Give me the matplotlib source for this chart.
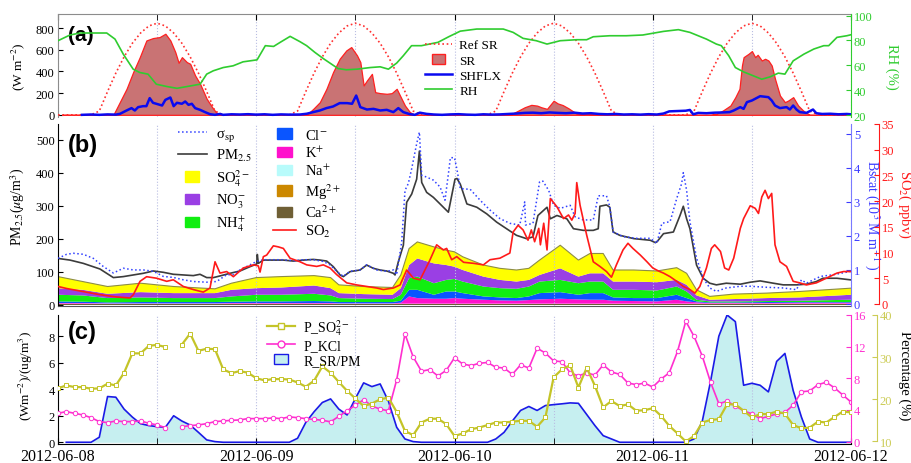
import datetime as dt
import numpy as np
import matplotlib
matplotlib.use("Agg")
import matplotlib.pyplot as plt
import matplotlib.dates as mdates
from matplotlib.lines import Line2D
from matplotlib.patches import Patch, Rectangle
from matplotlib.legend_handler import HandlerPatch

plt.rcParams['font.family'] = ['Liberation Serif', 'DejaVu Serif']
plt.rcParams['mathtext.fontset'] = 'stix'

nan = np.nan

# ---- panel (a): radiation, sensible heat flux, RH  (hours since 2012-06-08 00:00)
ref_daily = [0, 0, 0, 0, 0, 35, 215, 385, 535, 660, 755, 820,
             845, 820, 755, 660, 535, 385, 215, 35, 0, 0, 0, 0]

sr_t = [0.5, 6.7, 8.3, 9.1, 9.9, 10.7, 11.5, 12.3, 13.0, 13.6, 14.2, 14.6, 15.0, 15.6, 16.0, 16.6, 17.2, 18.0, 18.8, 19.4,
        30.1, 30.9, 31.7, 32.5, 33.3, 34.1, 34.9, 35.5, 36.2, 36.6, 37.0, 37.4, 38.0, 38.4, 39.0, 39.8, 40.4, 41.0, 41.4, 42.0, 42.6, 43.2,
        54.7, 55.5, 56.5, 57.3, 58.0, 58.5, 59.2, 60.0, 60.5, 61.1, 61.8, 62.4, 62.8, 63.5, 64.0, 64.5, 65.5,
        79.0, 79.7, 80.5, 81.4, 82.0, 82.5, 82.8, 83.0, 83.6, 84.0, 84.4, 84.7, 85.2, 85.6, 86.0, 86.4, 86.8, 87.4, 88.0, 88.4, 89.0, 89.6, 90.2, 91.0, 96.0]
sr_v = [0, 0, 240, 394, 532, 686, 708, 717, 748, 686, 578, 480, 532, 486, 471, 363, 286, 148, 55, 0,
        0, 55, 117, 240, 394, 517, 594, 625, 548, 486, 271, 317, 378, 209, 200, 194, 200, 240, 178, 86, 25, 0,
        0, 30, 70, 92, 85, 70, 55, 130, 105, 90, 60, 30, 10, 5, 12, 5, 0,
        0, 9, 40, 86, 163, 240, 455, 532, 563, 588, 532, 554, 501, 517, 501, 455, 332, 178, 117, 132, 163, 86, 40, 0, 0]

shf_t = [2.9, 4.0, 5.0, 6.0, 7.0, 7.5, 8.3, 8.9, 9.3, 9.7, 10.3, 10.7, 11.1, 11.5, 11.9, 12.6, 13.0, 13.6, 14.0, 14.4,
         15.0, 15.4, 15.8, 16.2, 16.6, 17.2, 17.8, 18.4, 19.0, 19.6, 20.0, 21.0, 22.0, 23.0, 24.0, 25.0, 26.0, 27.0, 28.0, 29.3,
         30.1, 30.9, 31.7, 32.5, 33.3, 34.1, 35.0, 35.6, 36.1, 36.6, 37.4, 38.2, 39.0, 39.8, 40.6, 41.2, 41.8, 42.6, 43.2, 43.8,
         44.6, 45.5, 46.5, 47.5, 48.5, 49.5, 50.5, 51.5, 52.5, 53.5, 54.5, 55.5, 56.5, 57.5, 58.5, 59.5, 60.5, 61.5, 62.5, 63.5,
         64.5, 65.5, 66.5, 67.5, 68.5, 69.5, 70.5, 71.5, 72.5, 73.3, 74.0, 75.0, 76.0, 76.5, 76.9, 77.5, 78.5, 79.5, 80.5, 81.3,
         81.8, 82.6, 83.0, 83.4, 84.0, 85.0, 86.0, 86.4, 86.8, 87.4, 88.2, 88.6, 89.0, 89.4, 89.8, 90.6, 91.4, 91.8, 92.5, 93.5,
         94.5, 95.5, 96.0]
shf_v = [0, 3, 0, 4, 2, 9, 40, 62, 40, 71, 80, 80, 154, 111, 102, 86, 138, 160, 80, 111,
         102, 123, 92, 102, 62, 46, 25, 6, 0, 8, 0, 5, 3, 6, 2, 5, 0, 4, 2, 3,
         10, 25, 40, 62, 77, 108, 108, 102, 178, 71, 49, 55, 40, 46, 25, 62, 25, 6, 0, 20,
         9, 3, 0, 4, 6, 2, 0, 5, 2, 4, 8, 12, 18, 20, 15, 22, 18, 15, 20, 12,
         15, 8, 5, 8, 3, 5, 2, 6, 3, 12, 32, 35, 38, 45, 5, 18, 15, 20, 22, 25,
         40, 71, 55, 117, 132, 172, 163, 132, 86, 62, 71, 49, 86, 49, 25, 18, 49, 15, 8, 10,
         5, 8, 5]

rh_t = [0, 1.45, 2.66, 3.9, 5.9, 6.9, 7.9, 9.1, 9.9, 10.9, 11.9, 13.2, 14.4, 15.6, 17.2, 18.0, 18.8, 20.0, 21.2, 22.4,
        24.1, 25.1, 26.1, 26.9, 28.1, 29.3, 30.1, 31.1, 32.1, 33.1, 33.9, 34.9, 36.2, 37.8, 39.0, 40.0, 41.0, 41.8, 42.8, 44.0,
        46.0, 47.3, 48.7, 50.7, 53.9, 55.1, 56.3, 57.9, 59.2, 60.8, 62.8, 64.0, 64.8, 66.8, 68.8, 70.8, 73.3, 75.1, 76.5, 78.5,
        79.7, 80.3, 81.2, 82.0, 83.0, 84.2, 85.2, 86.2, 87.2, 88.0, 89.0, 90.3, 91.5, 92.7, 93.3, 94.3, 95.5, 96.0]
rh_v = [79.8, 84.4, 86.0, 86.0, 86.0, 81.1, 69.0, 56.9, 54.2, 52.9, 44.8, 42.9, 41.5, 42.9, 44.8, 52.9, 55.6, 58.2, 59.6, 62.8,
        64.4, 75.8, 75.2, 78.5, 83.3, 79.0, 75.8, 70.4, 65.5, 61.0, 57.4, 56.4, 56.9, 58.2, 58.8, 56.9, 61.8, 67.7, 75.8, 75.8,
        78.5, 83.0, 87.5, 89.2, 89.2, 86.5, 81.7, 79.8, 77.1, 79.8, 80.6, 80.6, 83.0, 83.8, 83.8, 84.4, 87.3, 88.7, 86.5, 81.1,
        77.1, 75.8, 67.7, 58.2, 54.7, 51.5, 48.8, 50.7, 53.7, 52.9, 63.6, 69.0, 73.1, 75.8, 75.8, 82.5, 83.8, 84.6]

# ---- panel (b): PM2.5, scattering, SO2 and ions
pm_t = [0.0, 1.45, 3.07, 5.08, 6.70, 7.91, 9.12, 10.33, 11.54, 12.75, 13.96, 15.17, 16.38, 17.19, 18.0, 18.81, 19.61, 20.82, 22.03, 23.24,
        24.05, 24.13, 24.25, 24.86, 26.07, 27.28, 28.49, 29.70, 30.91, 31.72, 32.53, 33.33, 34.14, 34.54, 35.35, 36.56, 37.37, 38.18, 38.98, 39.79,
        40.60, 40.80, 41.20, 41.81, 42.21, 42.82, 43.42, 43.75, 44.03, 44.63, 45.44, 46.25, 46.65, 47.26, 47.66, 48.06, 48.3, 48.7, 49.5, 50.7,
        51.9, 53.1, 54.3, 55.5, 56.7, 57.5, 58.1, 59.2, 59.6, 60.4, 61.6, 62.4, 63.6, 64.8, 65.4, 65.6, 66.4, 66.8, 67.2, 68.0,
        69.7, 71.7, 72.3, 72.5, 73.3, 74.5, 75.3, 75.7, 76.1, 76.5, 77.3, 78.1, 78.9, 79.7, 80.9, 82.6, 83.8, 85.0, 86.6, 87.8,
        89.4, 90.6, 91.8, 92.6, 94.3, 96.0]
pm_v = [140, 135, 125, 108, 82, 85, 90, 95, 102, 98, 92, 90, 88, 92, 82, 82, 87, 95, 102, 115,
        123, 152, 125, 135, 135, 135, 132, 135, 137, 135, 132, 115, 90, 85, 100, 105, 120, 110, 105, 102,
        95, 90, 130, 180, 310, 335, 380, 465, 370, 340, 325, 305, 295, 280, 330, 380, 382, 365, 305, 295,
        275, 250, 230, 210, 200, 205, 270, 295, 260, 270, 260, 230, 225, 225, 230, 298, 302, 295, 220, 210,
        200, 195, 188, 190, 215, 220, 270, 298, 260, 230, 120, 80, 65, 60, 65, 62, 68, 72, 65, 60,
        60, 62, 70, 80, 80, 75]

bs_t = [0.0, 1.05, 1.86, 3.07, 4.28, 5.49, 6.70, 7.91, 9.12, 10.33, 11.54, 12.75, 13.96, 15.17, 16.38, 18.0, 19.21, 20.42, 21.23, 22.03,
        23.24, 24.05, 24.86, 26.07, 27.28, 28.49, 29.70, 30.91, 32.12, 32.93, 33.74, 34.54, 35.35, 36.56, 37.37, 38.58, 39.79, 40.60, 41.0, 41.61,
        42.01, 42.41, 42.82, 43.42, 43.75, 44.03, 44.63, 45.44, 46.25, 46.85, 47.3, 47.5, 48.0, 48.3, 48.7, 49.9, 51.1, 52.3, 53.5, 54.7,
        55.9, 56.5, 56.6, 57.5, 58.3, 58.7, 59.4, 60.0, 60.8, 62.0, 62.6, 63.6, 64.8, 65.4, 66.4, 66.8, 67.2, 68.4, 70.0, 71.7,
        72.5, 73.1, 74.1, 74.9, 75.5, 75.7, 76.1, 76.5, 77.3, 78.1, 78.9, 79.7, 80.9, 82.6, 83.8, 85.8, 87.8, 89.4, 90.0, 90.6,
        92.3, 93.9, 96.0]
bs_v = [1.34, 1.46, 1.49, 1.46, 1.34, 1.10, 0.91, 1.05, 1.00, 1.00, 0.96, 0.81, 0.78, 0.71, 0.66, 0.64, 0.66, 0.86, 0.86, 1.00,
        1.15, 1.25, 1.30, 1.30, 1.30, 1.27, 1.30, 1.30, 1.25, 1.15, 0.96, 0.81, 0.96, 1.00, 1.15, 1.00, 0.96, 1.00, 0.86, 1.83,
        3.34, 3.54, 3.98, 4.71, 5.05, 3.78, 3.73, 3.64, 3.44, 3.05, 3.90, 4.30, 4.30, 3.95, 3.39, 3.37, 3.05, 2.76, 2.51, 2.37,
        2.32, 3.00, 2.32, 2.37, 3.59, 3.61, 3.34, 2.90, 2.81, 2.90, 2.56, 2.47, 2.47, 3.18, 3.18, 2.86, 2.12, 1.98, 1.93, 1.93,
        1.78, 2.37, 2.42, 3.10, 3.54, 3.86, 3.34, 2.42, 1.35, 0.76, 0.47, 0.37, 0.47, 0.52, 0.52, 0.49, 0.47, 0.42, 0.71, 0.61,
        0.81, 0.86, 0.96]

so2_t = [0.0, 1.05, 3.07, 5.08, 7.10, 8.72, 9.12, 9.93, 10.73, 11.95, 13.16, 13.96, 15.17, 16.38, 17.59, 18.40, 19.01, 19.61, 20.42, 21.23,
         22.44, 23.65, 24.25, 24.46, 24.86, 25.26, 26.07, 26.67, 27.28, 28.09, 29.30, 30.11, 31.32, 32.12, 32.93, 33.74, 34.95, 36.16, 37.37, 38.58,
         39.39, 40.60, 41.41, 42.21, 43.02, 43.83, 45.04, 45.84, 46.65, 47.05, 47.66, 48.27, 49.1, 50.3, 51.5, 52.3, 53.5, 54.7, 55.1, 55.7,
         56.3, 56.9, 57.3, 57.7, 58.2, 58.4, 58.8, 59.2, 59.6, 60.4, 61.2, 61.8, 62.2, 62.6, 62.8, 63.2, 64.0, 64.8, 65.6, 66.4,
         67.0, 67.6, 68.4, 69.0, 69.6, 70.5, 71.3, 72.0, 72.7, 73.3, 74.1, 74.9, 75.7, 76.5, 77.1, 77.7, 78.5, 79.1, 79.5, 80.2,
         80.7, 81.2, 81.8, 82.6, 83.0, 83.8, 84.4, 84.8, 85.2, 85.6, 86.0, 86.4, 86.8, 87.4, 88.2, 89.0, 89.8, 90.6, 91.8, 93.0,
         94.3, 95.1, 96.0]
so2_v = [3.4, 3.0, 2.4, 1.8, 1.35, 1.16, 1.8, 4.4, 5.3, 5.0, 4.4, 4.7, 3.4, 2.8, 2.3, 3.1, 8.2, 6.0, 6.3, 5.3,
         7.0, 7.6, 7.4, 6.2, 9.2, 9.5, 11.3, 11.1, 10.8, 8.9, 8.2, 7.6, 7.3, 7.6, 7.0, 5.7, 4.1, 3.7, 3.4, 3.1,
         2.8, 3.1, 3.7, 6.6, 5.0, 4.7, 8.6, 11.5, 10.5, 10.8, 8.6, 9.2, 8.1, 7.9, 7.6, 8.6, 8.9, 9.9, 14.0, 15.3,
         14.4, 12.4, 14.4, 12.1, 14.7, 11.5, 15.7, 10.5, 20.5, 18.9, 16.6, 17.3, 16.3, 17.6, 23.6, 19.2, 13.4, 8.2, 7.3, 6.3,
         5.2, 7.6, 10.5, 11.8, 10.8, 9.5, 8.2, 7.0, 6.4, 6.0, 5.3, 4.4, 3.4, 2.8, 2.1, 3.4, 7.0, 10.8, 11.5, 10.2,
         7.0, 6.6, 8.9, 14.7, 16.6, 19.1, 18.6, 17.6, 20.8, 22.1, 20.5, 21.5, 11.5, 8.2, 7.3, 4.4, 4.1, 3.7, 4.1, 5.0,
         6.0, 6.3, 6.3]

ion_t = [0, 3, 6, 10, 14, 19, 21, 24, 27, 31, 33, 34, 37, 40.5, 41.5, 42.5, 43.5, 45.5, 47, 48,
         49, 51.5, 53.5, 55.5, 57, 58.3, 60.8, 63, 64.4, 66, 67.2, 69.7, 72.5, 74.9, 76.1, 77.3, 78.9, 81.8, 85.8, 89.8, 96]
so4 = [35, 25, 22, 27, 20, 13, 20, 32, 33, 30, 32, 25, 23, 22, 40, 50, 50, 50, 45, 45,
       40, 35, 35, 35, 35, 45, 70, 50, 60, 60, 35, 35, 34, 37, 35, 17, 10, 15, 15, 18, 20]
no3 = [20, 17, 13, 16, 15, 15, 20, 20, 22, 25, 22, 15, 14, 13, 20, 40, 55, 60, 45, 37,
       35, 30, 25, 22, 20, 20, 35, 20, 25, 25, 25, 25, 25, 20, 20, 13, 5, 7, 9, 10, 15]
nh4 = [20, 19, 13, 14, 12, 12, 16, 20, 20, 22, 18, 12, 10, 9, 18, 35, 40, 35, 35, 38,
       35, 30, 28, 28, 30, 35, 37, 35, 35, 35, 23, 25, 23, 25, 20, 5, 3, 3, 3, 4, 7]
cl = [5, 4, 3, 4, 4, 4, 4, 5, 5, 6, 5, 4, 4, 4, 6, 20, 25, 12, 22, 20,
      17, 10, 9, 8, 11, 19, 20, 14, 20, 20, 10, 9, 10, 15, 10, 3, 2, 2, 3, 2, 2]
k = [2, 2, 1, 1, 1, 1, 2, 2, 2, 2, 2, 1, 1, 1, 3, 22, 17, 15, 15, 17,
     15, 12, 10, 9, 11, 13, 15, 13, 12, 12, 9, 8, 7, 12, 7, 4, 2, 2, 2, 3, 3]
na = [0.9] * len(ion_t)
mg = [0.6] * len(ion_t)
ca = [1.5] * len(ion_t)

# ---- panel (c): hourly ratios
hrs_c = list(range(97))
p_so4 = [22.6, 23.3, 22.9, 22.9, 22.5, 22.6, 23.7, 23.3, 26.3, 30.9,
         30.9, 32.7, 32.9, 32.4, nan, 33.0, 35.6, 31.5, 32.0, 31.9,
         27.1, 26.2, 26.7, 26.3, 25.0, 24.5, 24.8, 24.8, 24.7, 24.0,
         23.0, 24.4, 27.8, 26.3, 24.1, 22.0, 20.2, 18.4, 19.0, 20.0,
         20.4, 17.0, 12.5, 11.5, 14.5, 15.4, 15.4, 14.1, 11.3, 11.9,
         12.9, 13.3, 13.9, 14.5, 14.5, 14.7, 14.9, 14.9, 13.5, 15.7,
         25.2, 27.1, 28.1, 22.8, 27.5, 23.2, 18.1, 19.6, 18.4, 18.8,
         17.3, 17.4, 17.9, 16.1, 13.7, 11.9, 10.0, 11.3, 14.5, 15.1,
         15.3, 18.8, 18.8, 17.3, 15.7, 16.5, 16.5, 17.1, 16.6, 13.9,
         13.1, 13.3, 14.7, 14.5, 15.8, 17.1, 16.9]
p_kcl = [3.58, 3.79, 3.58, 3.37, 3.03, 2.53, 2.40, 2.61, 2.53, 2.53,
         2.61, 2.32, 2.11, 1.77, nan, 1.89, 2.02, 2.11, 2.27, 2.53,
         2.61, 2.69, 2.74, 2.91, 2.91, 2.91, 2.99, 2.91, 3.12, 3.03,
         2.91, 2.80, 2.70, 2.50, 3.20, 3.90, 4.60, 5.30, 4.50, 4.10,
         3.90, 7.80, 13.6, 10.7, 8.9, 9.1, 8.3, 9.0, 10.6, 9.8,
         9.6, 9.9, 10.0, 9.4, 9.3, 8.5, 9.7, 9.3, 11.8, 11.2,
         10.2, 10.1, 8.7, 8.3, 8.7, 8.4, 9.7, 8.8, 8.5, 7.4,
         7.2, 7.4, 6.9, 7.9, 8.7, 11.4, 15.2, 13.3, 10.8, 7.5,
         4.8, 5.1, 4.5, 3.9, 3.5, 2.9, 3.2, 3.5, 3.7, 4.6,
         6.3, 6.4, 7.2, 7.5, 6.8, 5.9, 5.0]
r_srpm = [nan, 0, 0, 0, 0, 0.38, 3.45, 3.40, 2.50, 1.90,
          1.40, 1.26, 1.18, 1.13, 2.00, 1.60, 1.30, 0.75, 0.18, 0.05,
          0, 0, 0, 0, 0, 0, 0, 0, 0, 0.30,
          1.50, 2.30, 3.00, 3.27, 2.50, 2.06, 3.30, 4.48, 4.20, 4.40,
          3.10, 1.13, 0.25, 0.05, 0, 0, 0, 0, 0, 0,
          0, 0, 0, 0.25, 0.75, 1.60, 2.40, 2.70, 2.40, 2.77,
          2.84, 2.90, 2.97, 2.94, 2.10, 1.26, 0.50, 0.25, 0, 0,
          0, 0, 0, 0, 0, 0, 0, 0.25, 1.60, 4.60,
          8.00, 9.60, 9.10, 4.30, 4.45, 4.30, 3.80, 6.10, 6.70, 3.90,
          1.90, 0.25, 0, 0, 0, 0, 0]

T0 = mdates.date2num(dt.datetime(2012, 6, 8))


def tx(hours):
    return T0 + np.asarray(hours, dtype=float) / 24.0


C_GREEN = '#2fcc2f'
C_BLUE = '#3a3aff'
C_RED = '#ff1a1a'
C_MAG = '#ff2fcf'
C_OLIVE = '#c4c428'
GRID = '#b9bde2'


def small_box(legend, orig_handle, xdescent, ydescent, width, height, fontsize):
    w = height * 1.4
    return Rectangle((width / 2 - w / 2 - xdescent, -ydescent), w, height)


def style_x(ax, labels=False, top=False):
    ax.set_xlim(tx(0), tx(96))
    ax.xaxis.set_major_locator(mdates.DayLocator())
    ax.xaxis.set_minor_locator(mdates.HourLocator(byhour=[12]))
    ax.xaxis.set_major_formatter(mdates.DateFormatter('%Y-%m-%d'))
    ax.grid(True, which='both', axis='x', ls=':', lw=0.8, color=GRID)
    ax.tick_params(axis='x', which='both', direction='in', length=4, top=top,
                   bottom=labels, labelbottom=labels, labelsize=11.5, pad=3)
    ax.tick_params(axis='y', direction='in', length=3.5, labelsize=9, pad=2.5)


def style_right(ax, color, pos=None, bounds=None):
    for s in ('left', 'top', 'bottom'):
        ax.spines[s].set_visible(False)
    ax.spines['right'].set_color(color)
    if pos is not None:
        ax.spines['right'].set_position(('axes', pos))
    if bounds is not None:
        ax.spines['right'].set_bounds(*bounds)
    ax.tick_params(axis='y', colors=color, direction='in', length=3.5, labelsize=9, pad=2)


fig = plt.figure(figsize=(9.12, 4.64), dpi=100)
L, W = 58 / 912, 793 / 912
axa = fig.add_axes([L, 1 - 118 / 464, W, 103 / 464])
axb = fig.add_axes([L, 1 - 307 / 464, W, 182 / 464])
axc = fig.add_axes([L, 1 - 445 / 464, W, 129 / 464])

# ---------------- (a)
ref_v = ref_daily * 4 + [0]
axa.fill_between(tx(sr_t), 0, sr_v, facecolor='#c97374', edgecolor='#ff2020', linewidth=0.9, zorder=2)
axa.plot(tx(range(97)), ref_v, color='#ff3030', ls=(0, (1, 1.6)), lw=1.2, zorder=3)
axa.plot(tx(shf_t), shf_v, color='#0a0af0', lw=1.8, zorder=4)
axa.set_ylim(-20, 930)
axa.set_yticks([0, 200, 400, 600, 800])
style_x(axa, top=True)
for s in ('left', 'top'):
    axa.spines[s].set_color('#8c8c8c')
axa.spines['bottom'].set_visible(False)
axa.spines['right'].set_visible(False)
axa.set_ylabel('(W m$^{-2}$)', fontsize=9.5, va='center')
axa.yaxis.set_label_coords(-0.05, 0.5)
axa.text(0.012, 0.8, '(a)', transform=axa.transAxes, fontsize=15, fontweight='bold',
         family='Liberation Sans', va='center')

axa2 = axa.twinx()
axa2.plot(tx(rh_t), rh_v, color=C_GREEN, lw=1.2)
axa2.set_ylim(18.4, 101.3)
axa2.set_yticks([20, 40, 60, 80, 100])
style_right(axa2, C_GREEN)
axa2.set_ylabel('RH (%)', color=C_GREEN, fontsize=10.5, rotation=270, va='center', ha='center')
axa2.yaxis.set_label_coords(1.052, 0.5)
h_a = [Line2D([], [], color='#ff3030', ls=(0, (1, 1.6)), lw=1.2),
       Patch(facecolor='#c97374', edgecolor='#ff2020'),
       Line2D([], [], color='#0a0af0', lw=1.8),
       Line2D([], [], color=C_GREEN, lw=1.2)]
axa2.legend(h_a, ['Ref SR', 'SR', 'SHFLX', 'RH'], loc='upper left', bbox_to_anchor=(0.463, 0.755),
            frameon=False, fontsize=9.5, handlelength=2.0, handletextpad=0.6, labelspacing=0.22,
            borderpad=0, borderaxespad=0,
            handler_map={Patch: HandlerPatch(patch_func=small_box)})

# ---------------- (b)
ion_colors = ['#6f5f35', '#cc8800', '#b8fbfb', '#ff11cc', '#0a55ff', '#11ee11', '#9a3fe4', '#ffff00']
axb.stackplot(tx(ion_t), ca, mg, na, k, cl, nh4, no3, so4, colors=ion_colors, linewidth=0)
total = np.sum([ca, mg, na, k, cl, nh4, no3, so4], axis=0)
axb.plot(tx(ion_t), total, color='#8d8d45', lw=0.8)
axb.plot(tx(pm_t), pm_v, color='#3c3c3c', lw=1.2)
axb.set_ylim(-4, 547)
axb.set_yticks([0, 100, 200, 300, 400, 500])
style_x(axb)
axb.spines['top'].set_visible(False)
axb.spines['right'].set_visible(False)
axb.spines['bottom'].set_color('#555555')
axb.set_ylabel('PM$_{2.5}$($\\mu$g/m$^3$)', fontsize=10, va='center')
axb.yaxis.set_label_coords(-0.05, 0.55)
axb.text(0.012, 0.885, '(b)', transform=axb.transAxes, fontsize=17, fontweight='bold',
         family='Liberation Sans', va='center')

axb2 = axb.twinx()
axb2.plot(tx(bs_t), bs_v, color='#3040ff', ls=':', lw=1.1)
axb2.set_ylim(-0.06, 5.29)
axb2.set_yticks([0, 1, 2, 3, 4, 5])
style_right(axb2, C_BLUE)
axb2.spines['right'].set_color('#7a7aff')
axb2.set_ylabel('Bscat (10$^3$ M m$^{-1}$ )', color=C_BLUE, fontsize=10, rotation=270, va='center', ha='center')
axb2.yaxis.set_label_coords(1.0275, 0.505)

axb3 = axb.twinx()
axb3.plot(tx(so2_t), so2_v, color=C_RED, lw=1.2)
axb3.set_ylim(-0.4, 35)
axb3.set_yticks([0, 5, 10, 15, 20, 25, 30, 35])
style_right(axb3, C_RED, pos=1.0353, bounds=(0, 35))
axb3.set_ylabel('SO$_2$( ppbv)', color=C_RED, fontsize=10.5, rotation=270, va='center', ha='center')
axb3.yaxis.set_label_coords(1.068, 0.566)

pm_handles = [Line2D([], [], color='#3040ff', ls=':', lw=1.1),
              Line2D([], [], color='#3c3c3c', lw=1.2),
              Patch(color=ion_colors[7]), Patch(color=ion_colors[6]), Patch(color=ion_colors[5])]
pm_labels = ['σ$_{\\rm sp}$', 'PM$_{2.5}$', 'SO$_4^{2-}$', 'NO$_3^{-}$', 'NH$_4^{+}$']
leg1 = axb3.legend(pm_handles, pm_labels, loc='upper left', bbox_to_anchor=(0.151, 0.985),
                   frameon=False, fontsize=10.5, handlelength=2.0, handletextpad=0.6,
                   labelspacing=0.27, borderpad=0, borderaxespad=0,
                   handler_map={Patch: HandlerPatch(patch_func=small_box)})
axb3.add_artist(leg1)
ion_handles = [Patch(color=ion_colors[4]), Patch(color=ion_colors[3]), Patch(color=ion_colors[2]),
               Patch(color=ion_colors[1]), Patch(color=ion_colors[0]),
               Line2D([], [], color=C_RED, lw=1.2)]
ion_labels = ['Cl$^{-}$', 'K$^{+}$', 'Na$^{+}$', 'Mg$^{2+}$', 'Ca$^{2+}$', 'SO$_2$']
axb3.legend(ion_handles, ion_labels, loc='upper left', bbox_to_anchor=(0.271, 0.98),
            frameon=False, fontsize=10.5, handlelength=1.6, handletextpad=0.6,
            labelspacing=0.2, borderpad=0, borderaxespad=0,
            handler_map={Patch: HandlerPatch(patch_func=small_box)})

# ---------------- (c)
axc.fill_between(tx(hrs_c), 0, r_srpm, color='#c6eff0', lw=0)
axc.plot(tx(hrs_c), r_srpm, color='#1a1ae6', lw=1.2)
axc.set_ylim(-0.13, 9.6)
axc.set_yticks([0, 2, 4, 6, 8])
style_x(axc, labels=True)
axc.spines['top'].set_visible(False)
axc.spines['right'].set_visible(False)
axc.set_ylabel('(Wm$^{-2}$)/(ug/m$^3$)', fontsize=9.5, va='center')
axc.yaxis.set_label_coords(-0.04, 0.535)
axc.text(0.012, 0.87, '(c)', transform=axc.transAxes, fontsize=17, fontweight='bold',
         family='Liberation Sans', va='center')

axc2 = axc.twinx()
axc2.plot(tx(hrs_c), p_kcl, color=C_MAG, lw=1.2, marker='o', ms=3.2, mfc='white', mec=C_MAG, mew=0.7)
axc2.set_ylim(-0.3, 16)
axc2.set_yticks([0, 4, 8, 12, 16])
style_right(axc2, C_MAG, bounds=(0, 16))

axc3 = axc.twinx()
axc3.plot(tx(hrs_c), p_so4, color=C_OLIVE, lw=1.6, marker='s', ms=3.0, mfc='white', mec=C_OLIVE, mew=0.7)
axc3.set_ylim(9.4, 40)
axc3.set_yticks([10, 20, 30, 40])
style_right(axc3, '#cccc55', pos=1.0328, bounds=(10, 40))
axc3.set_ylabel('Percentage (%)', color='black', fontsize=10.5, rotation=270, va='center', ha='center')
axc3.yaxis.set_label_coords(1.068, 0.535)

h_c = [Line2D([], [], color=C_OLIVE, lw=1.6, marker='s', ms=5, mfc='white', mec=C_OLIVE),
       Line2D([], [], color=C_MAG, lw=1.2, marker='o', ms=5, mfc='white', mec=C_MAG),
       Patch(facecolor='#c6eff0', edgecolor='#1a1ae6')]
axc3.legend(h_c, ['P_SO$_4^{2-}$', 'P_KCl', 'R_SR/PM'], loc='upper left', bbox_to_anchor=(0.264, 0.985),
            frameon=False, fontsize=10, handlelength=2.0, handletextpad=0.6, labelspacing=0.15,
            borderpad=0, borderaxespad=0,
            handler_map={Patch: HandlerPatch(patch_func=small_box)})

fig.savefig('out.png', dpi=100)
